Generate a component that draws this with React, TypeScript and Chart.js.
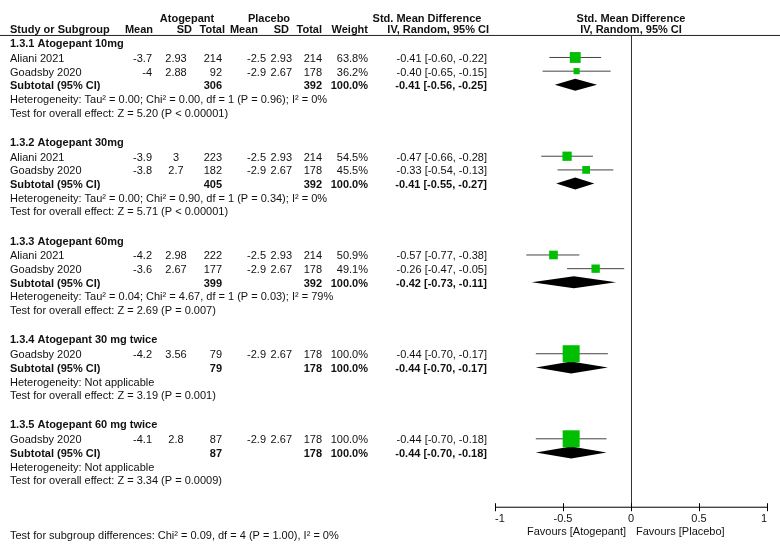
import React, { useEffect, useRef } from "react";
import { Chart, registerables } from "chart.js";

Chart.register(...registerables);

// ---------------- data ----------------
const groupTitles = [
  "1.3.1 Atogepant 10mg",
  "1.3.2 Atogepant 30mg",
  "1.3.3 Atogepant 60mg",
  "1.3.4 Atogepant 30 mg twice",
  "1.3.5 Atogepant 60 mg twice",
];
const studyGroup = [0, 0, 1, 1, 2, 2, 3, 4];
const studyNames = [
  "Aliani 2021",
  "Goadsby 2020",
  "Aliani 2021",
  "Goadsby 2020",
  "Aliani 2021",
  "Goadsby 2020",
  "Goadsby 2020",
  "Goadsby 2020",
];
const atoMean = ["-3.7", "-4", "-3.9", "-3.8", "-4.2", "-3.6", "-4.2", "-4.1"];
const atoSD = ["2.93", "2.88", "3", "2.7", "2.98", "2.67", "3.56", "2.8"];
const atoTotal = [214, 92, 223, 182, 222, 177, 79, 87];
const plaMean = ["-2.5", "-2.9", "-2.5", "-2.9", "-2.5", "-2.9", "-2.9", "-2.9"];
const plaSD = ["2.93", "2.67", "2.93", "2.67", "2.93", "2.67", "2.67", "2.67"];
const plaTotal = [214, 178, 214, 178, 214, 178, 178, 178];
const weights = [63.8, 36.2, 54.5, 45.5, 50.9, 49.1, 100, 100];
const smd = [-0.41, -0.4, -0.47, -0.33, -0.57, -0.26, -0.44, -0.44];
const smdLow = [-0.6, -0.65, -0.66, -0.54, -0.77, -0.47, -0.7, -0.7];
const smdHigh = [-0.22, -0.15, -0.28, -0.13, -0.38, -0.05, -0.17, -0.18];

const subAtoTotal = [306, 405, 399, 79, 87];
const subPlaTotal = [392, 392, 392, 178, 178];
const subWeight = [100, 100, 100, 100, 100];
const subSmd = [-0.41, -0.41, -0.42, -0.44, -0.44];
const subLow = [-0.56, -0.55, -0.73, -0.7, -0.7];
const subHigh = [-0.25, -0.27, -0.11, -0.17, -0.18];

const heterogeneityText = [
  "Heterogeneity: Tau² = 0.00; Chi² = 0.00, df = 1 (P = 0.96); I² = 0%",
  "Heterogeneity: Tau² = 0.00; Chi² = 0.90, df = 1 (P = 0.34); I² = 0%",
  "Heterogeneity: Tau² = 0.04; Chi² = 4.67, df = 1 (P = 0.03); I² = 79%",
  "Heterogeneity: Not applicable",
  "Heterogeneity: Not applicable",
];
const overallEffectText = [
  "Test for overall effect: Z = 5.20 (P < 0.00001)",
  "Test for overall effect: Z = 5.71 (P < 0.00001)",
  "Test for overall effect: Z = 2.69 (P = 0.007)",
  "Test for overall effect: Z = 3.19 (P = 0.001)",
  "Test for overall effect: Z = 3.34 (P = 0.0009)",
];
const subgroupDifferences =
  "Test for subgroup differences: Chi² = 0.09, df = 4 (P = 1.00), I² = 0%";

const xTicks = [-1, -0.5, 0, 0.5, 1];
const xTickLabels = ["-1", "-0.5", "0", "0.5", "1"];
const favoursLeft = "Favours [Atogepant]";
const favoursRight = "Favours [Placebo]";

// ---------------- layout / style ----------------
const CW = 780;
const CH = 558;
const PLOT_LEFT = 495;
const PLOT_RIGHT = 767;
const RULE_Y = 24.5;
const AXIS_Y = 517.5;
const FIRST_GROUP_Y = 32;
const PITCH = 14.3;
const HEAD_GAP = 15.5;
const GROUP_GAP = 30.5;
const TEXT_DY = 1.5;
const FONT = "'Liberation Sans', Arial, Helvetica, sans-serif";
const GREEN = "#00BE00";
const TEXT = "#111";

const COL = {
  name: 10,
  atoMean: 152,
  atoSD: 176,
  atoTotal: 222,
  plaMean: 266,
  plaSD: 292,
  plaTotal: 322,
  weight: 368,
  ci: 487,
};

function computeLayout() {
  const headerY: number[] = [];
  const subY: number[] = [];
  const hetY: number[] = [];
  const testY: number[] = [];
  const studyY: number[] = new Array(studyNames.length).fill(0);
  let y = FIRST_GROUP_Y;
  groupTitles.forEach((_, g) => {
    headerY.push(y);
    y += HEAD_GAP;
    studyGroup.forEach((sg, i) => {
      if (sg === g) {
        studyY[i] = y;
        y += PITCH;
      }
    });
    subY.push(y);
    y += PITCH;
    hetY.push(y);
    y += PITCH;
    testY.push(y);
    y += GROUP_GAP;
  });
  return { headerY, subY, hetY, testY, studyY };
}

const fmtCI = (v: number, lo: number, hi: number) =>
  `${v.toFixed(2)} [${lo.toFixed(2)}, ${hi.toFixed(2)}]`;

export default function App() {
  const ref = useRef<HTMLCanvasElement | null>(null);

  useEffect(() => {
    const canvas = ref.current;
    if (!canvas) return;
    const L = computeLayout();

    const forestPlugin = {
      id: "forest",
      beforeDatasetsDraw(chart: any) {
        const { ctx } = chart;
        const xs = chart.scales.x;
        const ys = chart.scales.y;
        ctx.save();
        const x0 = Math.round(xs.getPixelForValue(0)) + 0.5;
        ctx.strokeStyle = "#333";
        ctx.lineWidth = 1;
        ctx.beginPath();
        ctx.moveTo(x0, ys.getPixelForValue(RULE_Y));
        ctx.lineTo(x0, ys.getPixelForValue(AXIS_Y));
        ctx.stroke();
        ctx.fillStyle = "#000";
        subSmd.forEach((v, g) => {
          const yc = ys.getPixelForValue(L.subY[g]);
          const h = 6;
          ctx.beginPath();
          ctx.moveTo(xs.getPixelForValue(subLow[g]), yc);
          ctx.lineTo(xs.getPixelForValue(v), yc - h);
          ctx.lineTo(xs.getPixelForValue(subHigh[g]), yc);
          ctx.lineTo(xs.getPixelForValue(v), yc + h);
          ctx.closePath();
          ctx.fill();
        });
        ctx.restore();
      },
      afterDraw(chart: any) {
        const { ctx } = chart;
        const xs = chart.scales.x;
        const ys = chart.scales.y;
        ctx.save();
        ctx.fillStyle = TEXT;
        ctx.textBaseline = "middle";
        const t = (s: string, x: number, y: number, align: CanvasTextAlign, bold = false) => {
          ctx.font = `${bold ? "bold " : ""}11px ${FONT}`;
          ctx.textAlign = align;
          ctx.fillText(s, x, ys.getPixelForValue(y));
        };
        // column headers
        t("Atogepant", 187, 7, "center", true);
        t("Placebo", 269, 7, "center", true);
        t("Std. Mean Difference", 427, 7, "center", true);
        t("Std. Mean Difference", xs.getPixelForValue(0), 7, "center", true);
        t("Study or Subgroup", COL.name, 19, "left", true);
        t("Mean", 153, 19, "right", true);
        t("SD", 192, 19, "right", true);
        t("Total", 225, 19, "right", true);
        t("Mean", 258, 19, "right", true);
        t("SD", 289, 19, "right", true);
        t("Total", 322, 19, "right", true);
        t("Weight", 368, 19, "right", true);
        t("IV, Random, 95% CI", 489, 19, "right", true);
        t("IV, Random, 95% CI", xs.getPixelForValue(0), 19, "center", true);
        ctx.strokeStyle = "#222";
        ctx.lineWidth = 1;
        ctx.beginPath();
        ctx.moveTo(0, ys.getPixelForValue(RULE_Y));
        ctx.lineTo(CW, ys.getPixelForValue(RULE_Y));
        ctx.stroke();

        groupTitles.forEach((title, g) => {
          t(title, COL.name, L.headerY[g] + TEXT_DY, "left", true);
          const sy = L.subY[g] + TEXT_DY;
          t("Subtotal (95% CI)", COL.name, sy, "left", true);
          t(String(subAtoTotal[g]), COL.atoTotal, sy, "right", true);
          t(String(subPlaTotal[g]), COL.plaTotal, sy, "right", true);
          t(`${subWeight[g].toFixed(1)}%`, COL.weight, sy, "right", true);
          t(fmtCI(subSmd[g], subLow[g], subHigh[g]), COL.ci, sy, "right", true);
          t(heterogeneityText[g], COL.name, L.hetY[g] + TEXT_DY, "left");
          t(overallEffectText[g], COL.name, L.testY[g] + TEXT_DY, "left");
        });
        studyNames.forEach((name, i) => {
          const y = L.studyY[i] + TEXT_DY;
          t(name, COL.name, y, "left");
          t(atoMean[i], COL.atoMean, y, "right");
          t(atoSD[i], COL.atoSD, y, "center");
          t(String(atoTotal[i]), COL.atoTotal, y, "right");
          t(plaMean[i], COL.plaMean, y, "right");
          t(plaSD[i], COL.plaSD, y, "right");
          t(String(plaTotal[i]), COL.plaTotal, y, "right");
          t(`${weights[i].toFixed(1)}%`, COL.weight, y, "right");
          t(fmtCI(smd[i], smdLow[i], smdHigh[i]), COL.ci, y, "right");
        });

        // x axis
        const ay = ys.getPixelForValue(AXIS_Y);
        ctx.strokeStyle = "#000";
        ctx.beginPath();
        ctx.moveTo(xs.getPixelForValue(xTicks[0]), ay);
        ctx.lineTo(xs.getPixelForValue(xTicks[xTicks.length - 1]), ay);
        xTicks.forEach((v) => {
          const px = Math.round(xs.getPixelForValue(v)) + 0.5;
          ctx.moveTo(px, ay - 4);
          ctx.lineTo(px, ay + 4);
        });
        ctx.stroke();
        xTicks.forEach((v, i) => {
          const align: CanvasTextAlign =
            i === 0 ? "left" : i === xTicks.length - 1 ? "right" : "center";
          t(xTickLabels[i], xs.getPixelForValue(v), 530, align);
        });
        const zx = xs.getPixelForValue(0);
        t(favoursLeft, zx - 5, 543, "right");
        t(favoursRight, zx + 5, 543, "left");
        t(subgroupDifferences, COL.name, 548, "left");
        ctx.restore();
      },
    };

    const ciDatasets = studyNames.map((_, i) => ({
      type: "line" as const,
      data: [
        { x: smdLow[i], y: L.studyY[i] },
        { x: smdHigh[i], y: L.studyY[i] },
      ],
      borderColor: "#444",
      borderWidth: 1,
      pointRadius: 0,
      fill: false,
      order: 1,
    }));

    const squares = {
      type: "scatter" as const,
      data: smd.map((v, i) => ({ x: v, y: L.studyY[i] })),
      pointStyle: "rect",
      pointRadius: weights.map((w) => (17 * w) / 100 / Math.SQRT2),
      pointBackgroundColor: GREEN,
      pointBorderColor: GREEN,
      pointBorderWidth: 0,
      order: 0,
    };

    const chart = new Chart(canvas, {
      type: "scatter",
      data: { datasets: [squares as any, ...ciDatasets] },
      options: {
        animation: false,
        responsive: false,
        devicePixelRatio: 1,
        events: [],
        layout: {
          padding: { left: PLOT_LEFT, right: CW - PLOT_RIGHT, top: 0, bottom: 0 },
        },
        scales: {
          x: { type: "linear", min: -1, max: 1, display: false },
          y: { type: "linear", min: 0, max: CH, reverse: true, display: false },
        },
        plugins: { legend: { display: false }, tooltip: { enabled: false } },
      },
      plugins: [forestPlugin],
    });
    return () => chart.destroy();
  }, []);

  return (
    <div style={{ position: "fixed", left: 0, top: 0, width: CW, height: CH, background: "#fff" }}>
      <canvas ref={ref} width={CW} height={CH} style={{ width: CW, height: CH, display: "block" }} />
    </div>
  );
}
